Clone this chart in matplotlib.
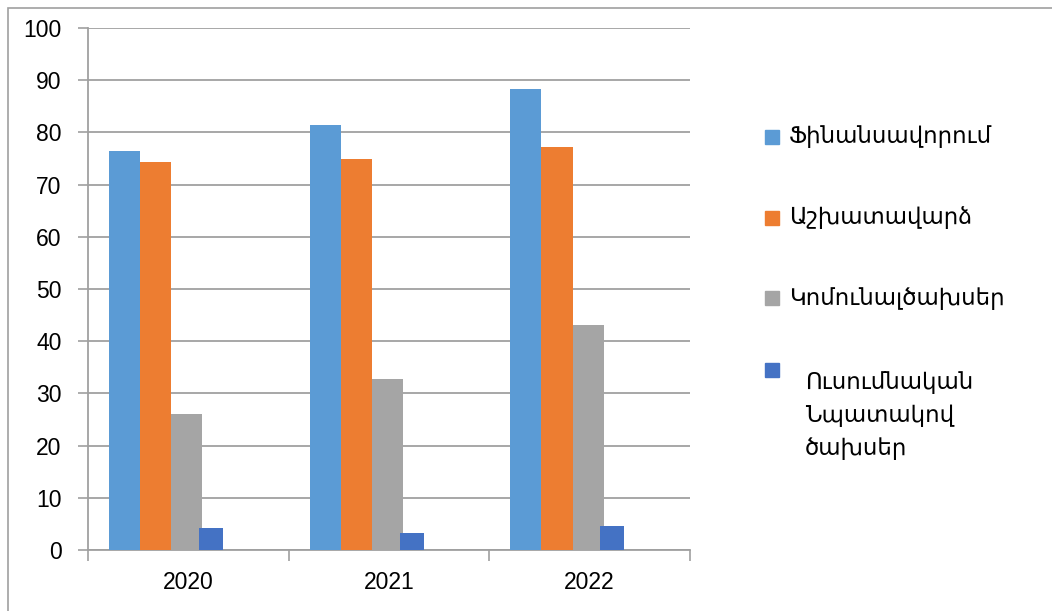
import numpy as np
import matplotlib.pyplot as plt
from matplotlib.patches import Rectangle

years = ['2020', '2021', '2022']
series_names = ['Ֆինանսավորում', 'Աշխատավարձ', 'Կոմունալծախսեր', 'Ուսումնական\nՆպատակով\nծախսեր']
financing = [76.4, 81.4, 88.3]
salary = [74.4, 74.9, 77.2]
utilities = [26.0, 32.8, 43.1]
education = [4.2, 3.3, 4.6]
y_ticks = [0, 10, 20, 30, 40, 50, 60, 70, 80, 90, 100]

colors = ['#5B9BD5', '#ED7D31', '#A5A5A5', '#4472C4']
values = [financing, salary, utilities, education]

plt.rcParams['font.family'] = ['Liberation Sans', 'DejaVu Sans']

fig = plt.figure(figsize=(10.52, 6.11), dpi=100)
ax = fig.add_axes([88/1052, 61/611, 602/1052, 522/611])

x = np.arange(len(years))
w = 0.155
offsets = [-0.318, -0.163, -0.008]
for i in range(3):
    ax.bar(x + offsets[i], values[i], width=w, color=colors[i], zorder=3)
# last series drawn narrower, tucked against the grey bar
ax.bar(x + 0.113, values[3], width=0.12, color=colors[3], zorder=3)

ax.set_xlim(-0.5, 2.5)
ax.set_ylim(0, 100)
ax.set_yticks(y_ticks)
ax.set_xticks(x)
ax.set_xticklabels(years)
ax.set_xticks([-0.5, 0.5, 1.5, 2.5], minor=True)
ax.tick_params(axis='x', which='major', length=0, pad=15, labelsize=16.5)
ax.tick_params(axis='x', which='minor', length=8, color='#A0A0A0', width=1.2)
ax.tick_params(axis='y', length=7, color='#A0A0A0', width=1.2, pad=12, labelsize=16.5)
ax.yaxis.grid(True, color='#A0A0A0', linewidth=1.3, zorder=0)
for s in ['top', 'right']:
    ax.spines[s].set_visible(False)
for s in ['left', 'bottom']:
    ax.spines[s].set_color('#A0A0A0')
    ax.spines[s].set_linewidth(1.3)

# legend on the right
leg_y = [137, 218, 298, 370]
for i, name in enumerate(series_names):
    yy = 1 - leg_y[i] / 611
    fig.patches.append(Rectangle((765/1052, yy - 7/611), 14/1052, 14/611,
                                 transform=fig.transFigure, color=colors[i]))
    if i < 3:
        fig.text(789/1052, yy, name, va='center', ha='left', fontsize=16.5,
                 family=['DejaVu Sans'])
    else:
        fig.text(805/1052, yy - 1/611, name, va='top', ha='left', fontsize=16.5,
                 family=['DejaVu Sans'], linespacing=1.55)

# outer frame
fig.patches.append(Rectangle((8/1052, -0.1), 1.2, 1 - 8/611 + 0.1, transform=fig.transFigure,
                             fill=False, edgecolor='#A0A0A0', linewidth=1.2))

fig.savefig('out.png', dpi=100)
